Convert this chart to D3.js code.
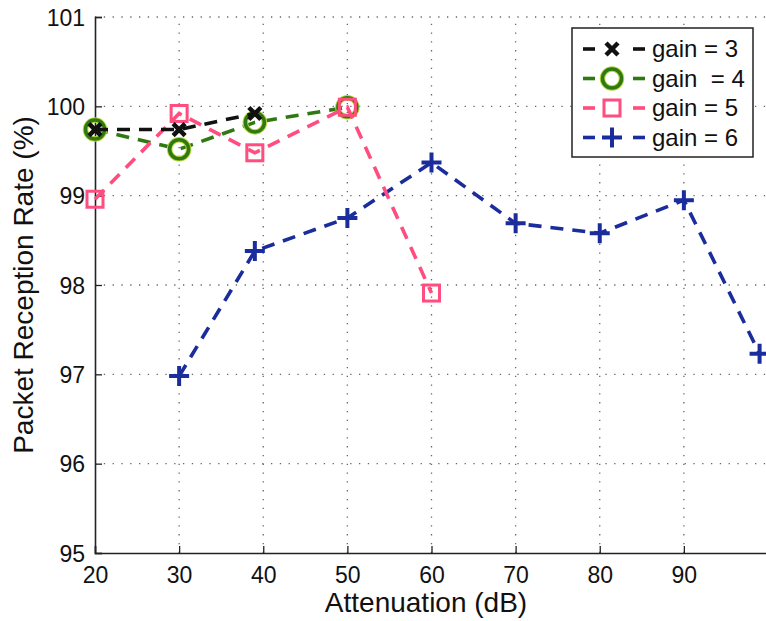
<!DOCTYPE html>
<html>
<head>
<meta charset="utf-8">
<script src="https://cdn.jsdelivr.net/npm/d3@7"></script>
<style>
  body { margin: 0; background: #fff; }
  svg { display: block; font-family: "Liberation Sans", Arial, sans-serif; }
</style>
</head>
<body>
<div id="chart-container"></div>
<script>
// Packet reception rate vs attenuation, one series per gain setting

const xTicks = [20, 30, 40, 50, 60, 70, 80, 90];
const yTicks = [95, 96, 97, 98, 99, 100, 101];

const gain3X = [20, 30, 39];
const gain3Y = [99.74, 99.74, 99.92];

const gain4X = [20, 30, 39, 50];
const gain4Y = [99.74, 99.52, 99.82, 99.99];

const gain5X = [20, 30, 39, 50, 60];
const gain5Y = [98.96, 99.92, 99.48, 99.99, 97.91];

const gain6X = [30, 39, 50, 60, 70, 80, 90, 99];
const gain6Y = [96.98, 98.38, 98.75, 99.37, 98.69, 98.58, 98.95, 97.23];

const legendLabels = ["gain = 3", "gain  = 4", "gain = 5", "gain = 6"];

const series = [
    { x: gain6X, y: gain6Y, color: "#1b2c9c", marker: "plus" },
    { x: gain4X, y: gain4Y, color: "#2f7812", marker: "circle" },
    { x: gain5X, y: gain5Y, color: "#ff4d80", marker: "square" },
    { x: gain3X, y: gain3Y, color: "#111111", marker: "cross" }
];
// legend order
const legendSeries = [series[3], series[1], series[2], series[0]];

const width = 766;
const height = 621;
const margin = { top: 17, right: -2, bottom: 68, left: 95 };

const svg = d3.select("#chart-container")
    .append("svg")
    .attr("width", width)
    .attr("height", height);

const x = d3.scaleLinear()
    .domain([20, 100])
    .range([margin.left, width - margin.right]);

const y = d3.scaleLinear()
    .domain([95, 101])
    .range([height - margin.bottom, margin.top]);

// dotted grid
const grid = svg.append("g")
    .attr("stroke", "#666")
    .attr("stroke-width", 1.3)
    .attr("stroke-dasharray", "1.3,7.5");

grid.selectAll(".vg")
    .data(xTicks.filter(d => d > 20))
    .enter()
    .append("line")
    .attr("x1", d => x(d)).attr("x2", d => x(d))
    .attr("y1", y(95)).attr("y2", y(101));

grid.selectAll(".hg")
    .data(yTicks.filter(d => d > 95))
    .enter()
    .append("line")
    .attr("x1", x(20)).attr("x2", x(100))
    .attr("y1", d => y(d)).attr("y2", d => y(d));

// axes (ticks point inward like matlab)
const xAxis = svg.append("g")
    .attr("transform", `translate(0,${y(95)})`)
    .call(d3.axisBottom(x).tickValues(xTicks).tickSize(-7).tickPadding(14).tickFormat(d3.format("d")));

const yAxis = svg.append("g")
    .attr("transform", `translate(${x(20)},0)`)
    .call(d3.axisLeft(y).tickValues(yTicks).tickSize(-7).tickPadding(10).tickFormat(d3.format("d")));

[xAxis, yAxis].forEach(a => {
    a.select(".domain").attr("stroke", "#222").attr("stroke-width", 1.6);
    a.selectAll(".tick line").attr("stroke", "#222").attr("stroke-width", 1.3);
    a.selectAll("text").attr("fill", "#111").style("font-size", "23px");
});
xAxis.selectAll("text").attr("dy", "0.71em");
yAxis.selectAll("text").attr("dy", "0.35em");

// axis titles
svg.append("text")
    .attr("x", 426)
    .attr("y", 612)
    .attr("text-anchor", "middle")
    .style("font-size", "28px")
    .attr("fill", "#111")
    .text("Attenuation (dB)");

svg.append("text")
    .attr("transform", "translate(33,285) rotate(-90)")
    .attr("text-anchor", "middle")
    .style("font-size", "28px")
    .attr("fill", "#111")
    .text("Packet Reception Rate (%)");

// marker drawing helper
function drawMarker(g, type, color) {
    if (type === "cross") {
        g.append("path").attr("d", "M-6,-6L6,6M6,-6L-6,6")
            .attr("stroke", color).attr("stroke-width", 4.5).attr("fill", "none");
    } else if (type === "circle") {
        g.append("circle").attr("r", 9.5)
            .attr("stroke", "#b8d640").attr("stroke-width", 5.5).attr("fill", "none");
        g.append("circle").attr("r", 9.5)
            .attr("stroke", color).attr("stroke-width", 3.5).attr("fill", "none");
    } else if (type === "square") {
        g.append("rect").attr("x", -8).attr("y", -8).attr("width", 16).attr("height", 16)
            .attr("stroke", color).attr("stroke-width", 3).attr("fill", "none");
    } else if (type === "plus") {
        g.append("path").attr("d", "M-10,0L10,0M0,-10L0,10")
            .attr("stroke", color).attr("stroke-width", 4).attr("fill", "none");
    }
}

const line = d3.line()
    .x(d => x(d[0]))
    .y(d => y(d[1]));

series.forEach(s => {
    const pts = s.x.map((v, i) => [v, s.y[i]]);
    svg.append("path")
        .datum(pts)
        .attr("d", line)
        .attr("fill", "none")
        .attr("stroke", s.color)
        .attr("stroke-width", 3.6)
        .attr("stroke-dasharray", "13,9");

    pts.forEach(p => {
        const g = svg.append("g").attr("transform", `translate(${x(p[0])},${y(p[1])})`);
        drawMarker(g, s.marker, s.color);
    });
});

// legend
const legend = svg.append("g").attr("transform", "translate(572,28)");
legend.append("rect")
    .attr("width", 181).attr("height", 129)
    .attr("fill", "#fff").attr("stroke", "#222").attr("stroke-width", 1.5);

legendSeries.forEach((s, i) => {
    const row = legend.append("g").attr("transform", `translate(0,${21 + i * 29.5})`);
    row.append("line").attr("x1", 11).attr("x2", 23)
        .attr("stroke", s.color).attr("stroke-width", 3.6);
    row.append("line").attr("x1", 61).attr("x2", 73)
        .attr("stroke", s.color).attr("stroke-width", 3.6);
    drawMarker(row.append("g").attr("transform", "translate(40,0)"), s.marker, s.color);
    row.append("text")
        .attr("x", 80).attr("dy", "0.35em")
        .style("font-size", "24px").style("white-space", "pre")
        .attr("fill", "#111")
        .text(legendLabels[i]);
});
</script>
</body>
</html>
